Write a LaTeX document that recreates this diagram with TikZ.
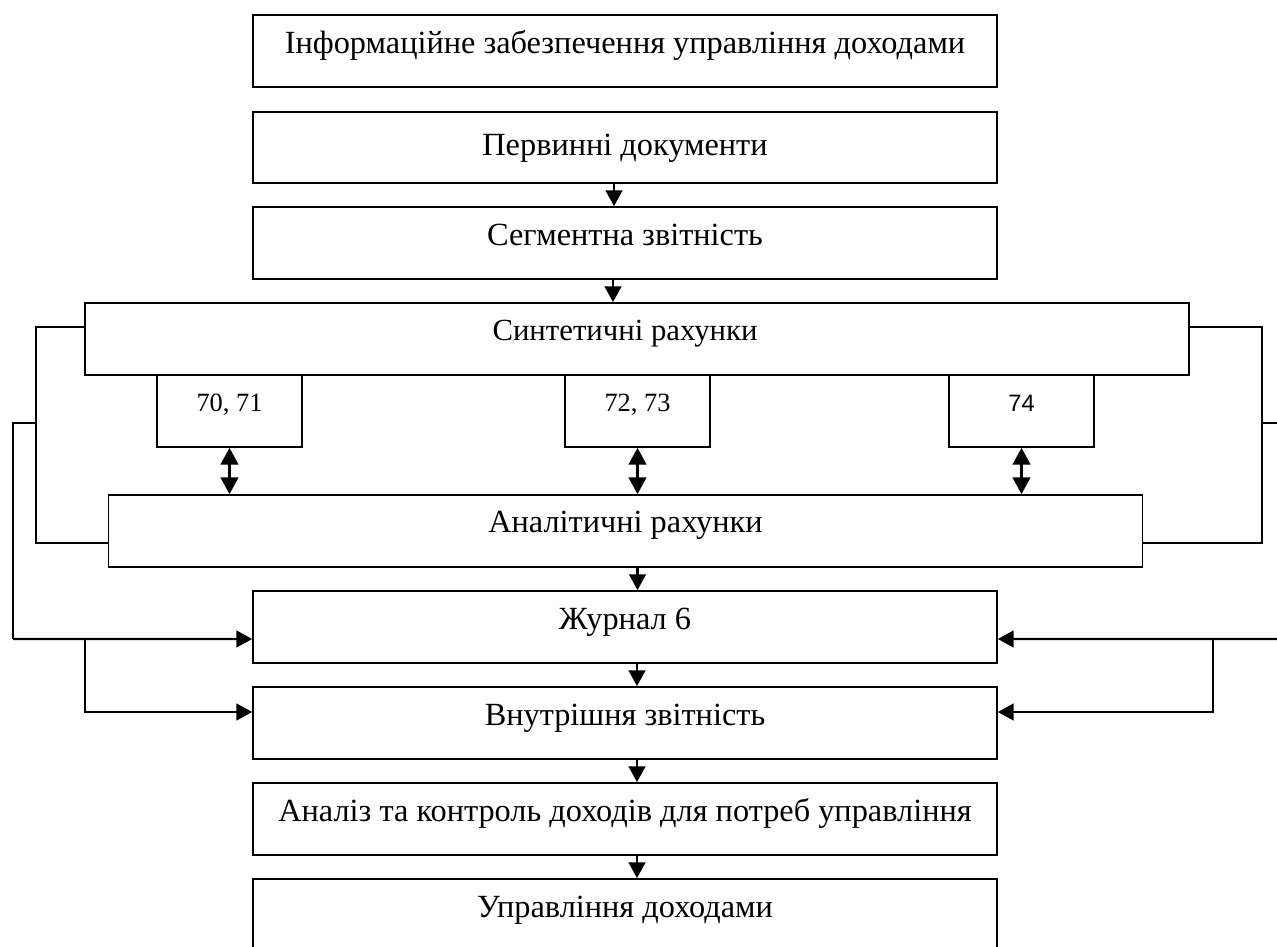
\documentclass[tikz,border=0pt]{standalone}
\usepackage{fontspec}
\setmainfont{Liberation Serif}
\newfontfamily\numsans{Liberation Sans}
\usetikzlibrary{positioning, arrows.meta}

\begin{document}
\begin{tikzpicture}[
    x=0.02cm, y=-0.02cm,
    box/.style={draw, line width=1pt, minimum width=14.88cm, minimum height=1.44cm, inner sep=0pt, font=\fontsize{18.4}{22}\selectfont, text height=0.7em, text depth=0.46em},
    acc/.style={draw, line width=1pt, minimum width=2.9cm, minimum height=1.44cm, inner sep=0pt, font=\fontsize{15}{18}\selectfont, text height=0.7em, text depth=0.7em},
    link/.style={line width=1pt},
    flow/.style={line width=1.3pt, -{Triangle[length=9pt, width=9.5pt]}},
    both/.style={line width=1.4pt, {Triangle[length=9.5pt, width=10pt]}-{Triangle[length=9.5pt, width=10pt]}},
]
\useasboundingbox (0,0) rectangle (1277,946);

% Main chain
\node[box] (info) at (625,51) {Інформаційне забезпечення управління доходами};
\node[box, minimum height=1.42cm, text height=1.1em, text depth=0.23em] (prim) at (625,147.5) {Первинні документи};
\node[box] (segm) at (625,243) {Сегментна звітність};

% Accounts
\node[box, minimum width=22.08cm, font=\fontsize{17.5}{21}\selectfont, text depth=0.5em] (synt) at (637,339) {Синтетичні рахунки\hspace*{0.48cm}};
\node[acc] (k7071) at (229.5,411) {70, 71};
\node[acc] (k7273) at (637.5,411) {72, 73};
\node[acc, font=\numsans\fontsize{13.5}{16}\selectfont] (k74) at (1021.5,411) {74};
\node[box, minimum width=20.68cm, text depth=0.58em] (anal) at (625.5,531) {Аналітичні рахунки};

% Reporting and management
\node[box] (zhur) at (625,627) {Журнал 6};
\node[box] (vnut) at (625,723) {Внутрішня звітність};
\node[box] (anlz) at (625,819) {Аналіз та контроль доходів для потреб управління};
\node[box] (upr) at (625,915) {Управління доходами};

% Vertical arrows
\draw[flow] ([xshift=-0.22cm]prim.south) -- ([xshift=-0.22cm]segm.north);
\draw[flow] ([xshift=-0.24cm]segm.south) -- ([xshift=-0.24cm]segm.south |- synt.north);
\draw[both] (k7071.south) -- (k7071.south |- anal.north);
\draw[both] (k7273.south) -- (k7273.south |- anal.north);
\draw[both] (k74.south) -- (k74.south |- anal.north);
\draw[flow] ([xshift=0.24cm]anal.south) -- ([xshift=0.24cm]anal.south |- zhur.north);
\draw[flow] ([xshift=0.24cm]zhur.south) -- ([xshift=0.24cm]vnut.north);
\draw[flow] ([xshift=0.24cm]vnut.south) -- ([xshift=0.24cm]anlz.north);
\draw[flow] ([xshift=0.24cm]anlz.south) -- ([xshift=0.24cm]upr.north);

% Left side
\draw[link] ([yshift=0.24cm]synt.west) -- ++(-48,0) |- ([yshift=-0.24cm]anal.west);
\coordinate (lmid) at (37,423);
\coordinate (lfork) at (85,639);
\draw[link] (lmid) -- (13,423) -- (13,639);
\draw[flow] (13,639) -- ([yshift=-0.24cm]zhur.west);
\draw[flow] (lfork) |- ([yshift=0.22cm]vnut.west);

% Right side
\draw[link] ([yshift=0.24cm]synt.east) -- ++(72,0) |- ([yshift=-0.24cm]anal.east);
\coordinate (rmid) at (1261,423);
\coordinate (rfork) at (1213,639);
\draw[link] (rmid) -- (1300,423) -- (1300,639);
\draw[flow] (1300,639) -- ([yshift=-0.24cm]zhur.east);
\draw[flow] (rfork) |- ([yshift=0.22cm]vnut.east);
\end{tikzpicture}
\end{document}
